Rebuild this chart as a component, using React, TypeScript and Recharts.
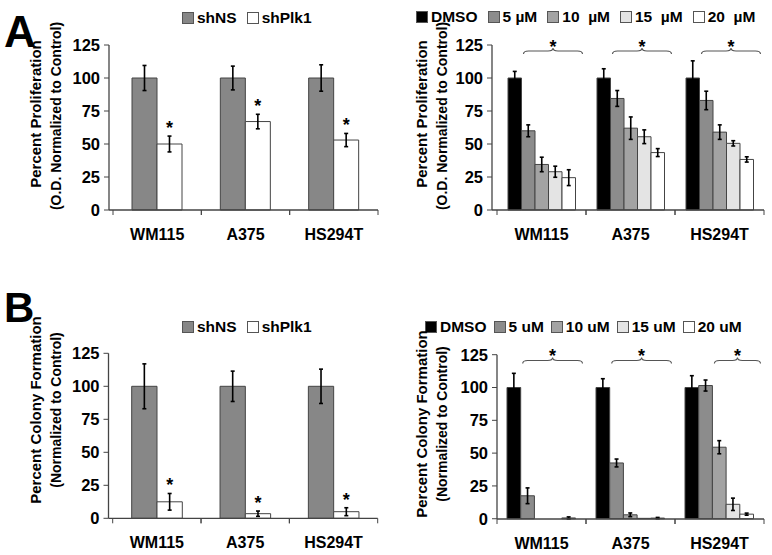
import React from 'react';
import { BarChart, Bar, XAxis, YAxis, ErrorBar, LabelList, Legend } from 'recharts';

const FONT = '"Liberation Sans", Arial, Helvetica, sans-serif';

const cells = ['WM115', 'A375', 'HS294T'];
const yTicks = [0, 25, 50, 75, 100, 125];

// A left: proliferation after shRNA
const prolShNS = [100, 100, 100];
const prolShNSErr = [9.5, 9, 10];
const prolShPlk1 = [50, 67, 53];
const prolShPlk1Err = [6, 5.5, 5];

// A right: proliferation vs dose
const prolDMSO = [100, 100, 100];
const prolDMSOErr = [5, 7, 13];
const prol5 = [60, 84.5, 83];
const prol5Err = [4.5, 6, 7];
const prol10 = [34.5, 62, 59];
const prol10Err = [5.5, 8.5, 5.5];
const prol15 = [29, 55.5, 50.5];
const prol15Err = [4.2, 5.2, 2];
const prol20 = [24.5, 43.5, 38.3];
const prol20Err = [6, 3, 2];
const prolSigFrom = [1, 1, 1];

// B left: colony formation after shRNA
const colShNS = [100, 100, 100];
const colShNSErr = [17, 11.5, 13];
const colShPlk1 = [12.5, 3.5, 5];
const colShPlk1Err = [6.3, 2, 3];

// B right: colony formation vs dose
const colDMSO = [100, 100, 100];
const colDMSOErr = [10.8, 6.7, 9];
const col5 = [17.5, 42.5, 101.5];
const col5Err = [6, 3, 4.2];
const col10 = [0, 3, 54.5];
const col10Err = [0, 1.4, 5];
const col15 = [0, 0.3, 11];
const col15Err = [0, 0, 4.7];
const col20 = [0.6, 0.5, 3.5];
const col20Err = [0.8, 0.5, 0.8];
const colSigFrom = [1, 1, 2];

const shSeries = [
  { key: 'shNS', name: 'shNS', fill: '#878787' },
  { key: 'shPlk1', name: 'shPlk1', fill: '#ffffff' },
];
const doseSeriesA = [
  { key: 'dmso', name: 'DMSO', fill: '#000000' },
  { key: 'd5', name: '5 µM', fill: '#8c8c8c' },
  { key: 'd10', name: '10  µM', fill: '#a3a3a3' },
  { key: 'd15', name: '15  µM', fill: '#e4e4e4' },
  { key: 'd20', name: '20  µM', fill: '#ffffff' },
];
const doseSeriesB = [
  { key: 'dmso', name: 'DMSO', fill: '#000000' },
  { key: 'd5', name: '5 uM', fill: '#8c8c8c' },
  { key: 'd10', name: '10 uM', fill: '#a3a3a3' },
  { key: 'd15', name: '15 uM', fill: '#e4e4e4' },
  { key: 'd20', name: '20 uM', fill: '#ffffff' },
];

const shRows = (a: number[], ae: number[], b: number[], be: number[]) =>
  cells.map((cell, i) => ({ cell, shNS: a[i], shNSErr: ae[i], shPlk1: b[i], shPlk1Err: be[i] }));

const doseRows = (v: number[][], e: number[][]) =>
  cells.map((cell, i) => ({
    cell,
    dmso: v[0][i], dmsoErr: e[0][i],
    d5: v[1][i], d5Err: e[1][i],
    d10: v[2][i], d10Err: e[2][i],
    d15: v[3][i], d15Err: e[3][i],
    d20: v[4][i], d20Err: e[4][i],
  }));

const prolShData = shRows(prolShNS, prolShNSErr, prolShPlk1, prolShPlk1Err);
const colShData = shRows(colShNS, colShNSErr, colShPlk1, colShPlk1Err);
const prolDoseData = doseRows(
  [prolDMSO, prol5, prol10, prol15, prol20],
  [prolDMSOErr, prol5Err, prol10Err, prol15Err, prol20Err]
);
const colDoseData = doseRows(
  [colDMSO, col5, col10, col15, col20],
  [colDMSOErr, col5Err, col10Err, col15Err, col20Err]
);

type Series = { key: string; name: string; fill: string };

function LegendRow({ items, gap }: { items: Series[]; gap: number }) {
  return (
    <div style={{ display: 'flex', alignItems: 'center', fontFamily: FONT, fontWeight: 'bold', fontSize: 15.5, lineHeight: '18px', whiteSpace: 'pre', color: '#000' }}>
      {items.map((s, i) => (
        <div key={s.key} style={{ display: 'flex', alignItems: 'center', marginRight: i < items.length - 1 ? gap : 0 }}>
          <span style={{ width: 10, height: 10, background: s.fill, border: '1px solid #555', marginRight: 3, display: 'inline-block' }} />
          <span>{s.name}</span>
        </div>
      ))}
    </div>
  );
}

type PanelProps = {
  x: number; y: number; w: number; h: number;
  axisX: number; catLeft: number; plotRight: number; plotTop: number; plotBottom: number;
  data: any[]; series: Series[]; barSize: number;
  legendLeft: number; legendMid: number; legendGap: number;
  mark: 'star' | 'bracket'; sigFrom?: number[];
};

function Panel(p: PanelProps) {
  const xh = 30;
  const yw = p.axisX - p.x;
  const mt = p.plotTop - p.y;
  const mb = p.y + p.h - p.plotBottom - xh;
  const mr = p.x + p.w - p.plotRight;
  const ppu = (p.plotBottom - p.plotTop) / 125;
  const axisY = p.plotBottom - p.y;
  const bandHalf = (p.plotRight - p.catLeft) / 3 / 2;

  const CatTick = (t: any) => {
    const half = t.payload && t.payload.offset ? t.payload.offset : bandHalf;
    return (
      <g>
        <line x1={t.x - half} x2={t.x - half} y1={axisY} y2={axisY + 5} stroke="#444" />
        <line x1={t.x + half} x2={t.x + half} y1={axisY} y2={axisY + 5} stroke="#444" />
        <text x={t.x} y={axisY + 30} textAnchor="middle" fontFamily={FONT} fontWeight="bold" fontSize={16} fill="#000">
          {t.payload.value}
        </text>
      </g>
    );
  };

  const renderStar = (l: any) => {
    const err = p.data[l.index].shPlk1Err;
    return (
      <text x={l.x + l.width / 2} y={l.y - err * ppu - 2} textAnchor="middle" fontFamily={FONT} fontWeight="bold" fontSize={18} fill="#000">*</text>
    );
  };

  const renderBracket = (l: any) => {
    const from = p.sigFrom ? p.sigFrom[l.index] : 1;
    const base = l.y + l.height;
    const by = base - 120.4 * ppu;
    const x1 = l.x + l.width * from + 2;
    const x2 = l.x + l.width * 5 + 7;
    const mid = (x1 + x2) / 2;
    const d = `M${x1},${by + 3} Q${x1},${by} ${x1 + 5},${by} L${mid - 5},${by} Q${mid},${by} ${mid},${by - 3} Q${mid},${by} ${mid + 5},${by} L${x2 - 5},${by} Q${x2},${by} ${x2},${by + 3}`;
    return (
      <g>
        <path d={d} fill="none" stroke="#555" strokeWidth={1.1} />
        <text x={mid} y={by + 1.5} textAnchor="middle" fontFamily={FONT} fontWeight="bold" fontSize={18} fill="#000">*</text>
      </g>
    );
  };

  return (
    <div style={{ position: 'absolute', left: p.x, top: p.y }}>
      <BarChart width={p.w} height={p.h} data={p.data} margin={{ top: mt, right: mr, bottom: mb, left: 0 }} barGap={0} barSize={p.barSize}>
        <XAxis
          dataKey="cell"
          height={xh}
          padding={{ left: p.catLeft - p.axisX, right: 0 }}
          axisLine={{ stroke: '#444', strokeWidth: 1.3 }}
          tickLine={false}
          tick={<CatTick />}
          interval={0}
        />
        <YAxis
          width={yw}
          domain={[0, 125]}
          ticks={yTicks}
          interval={0}
          tickSize={5}
          tickMargin={4}
          axisLine={{ stroke: '#444', strokeWidth: 1.3 }}
          tickLine={{ stroke: '#444' }}
          tick={{ fontFamily: FONT, fontWeight: 'bold', fontSize: 16.5, fill: '#000' }}
        />
        <Legend
          layout="horizontal"
          verticalAlign="middle"
          align="center"
          wrapperStyle={{ left: p.legendLeft - p.x, top: p.legendMid - p.y - 9, width: 'auto', height: 'auto' }}
          content={() => <LegendRow items={p.series} gap={p.legendGap} />}
        />
        {p.series.map((s, i) => (
          <Bar key={s.key} dataKey={s.key} name={s.name} fill={s.fill} stroke="#444" strokeWidth={1} isAnimationActive={false}>
            <ErrorBar dataKey={s.key + 'Err'} width={2} stroke="#000" strokeWidth={1.6} direction="y" />
            {p.mark === 'star' && s.key === 'shPlk1' ? <LabelList dataKey={s.key} content={renderStar} /> : null}
            {p.mark === 'bracket' && i === 0 ? <LabelList dataKey={s.key} content={renderBracket} /> : null}
          </Bar>
        ))}
      </BarChart>
    </div>
  );
}

function YTitle({ cx, cy1, cy2, l1, l2 }: { cx: number; cy1: number; cy2: number; l1: string; l2: string }) {
  return (
    <g fontFamily={FONT} fontWeight="bold" fill="#000">
      <text transform={`translate(${cx},${cy1}) rotate(-90)`} textAnchor="middle" dominantBaseline="central" fontSize={15}>{l1}</text>
      <text transform={`translate(${cx + 21},${cy2}) rotate(-90)`} textAnchor="middle" dominantBaseline="central" fontSize={14}>{l2}</text>
    </g>
  );
}

export default function App() {
  return (
    <div style={{ position: 'absolute', left: 0, top: 0, width: 772, height: 555, background: '#fff', overflow: 'hidden' }}>
      <Panel x={0} y={0} w={386} h={250} axisX={109} catLeft={113} plotRight={378} plotTop={45} plotBottom={210}
        data={prolShData} series={shSeries} barSize={25} legendLeft={182} legendMid={17.5} legendGap={10} mark="star" />
      <Panel x={386} y={0} w={386} h={250} axisX={492} catLeft={497} plotRight={764} plotTop={45} plotBottom={210}
        data={prolDoseData} series={doseSeriesA} barSize={13.5} legendLeft={416} legendMid={17} legendGap={10} mark="bracket" sigFrom={prolSigFrom} />
      <Panel x={0} y={280} w={386} h={275} axisX={108.5} catLeft={112.7} plotRight={377.7} plotTop={353.3} plotBottom={518.3}
        data={colShData} series={shSeries} barSize={25.3} legendLeft={182} legendMid={327} legendGap={10} mark="star" />
      <Panel x={386} y={280} w={386} h={275} axisX={497} catLeft={497} plotRight={764} plotTop={354.7} plotBottom={519}
        data={colDoseData} series={doseSeriesB} barSize={13.7} legendLeft={425} legendMid={327} legendGap={7} mark="bracket" sigFrom={colSigFrom} />
      <svg width={772} height={555} style={{ position: 'absolute', left: 0, top: 0, pointerEvents: 'none' }}>
        <text x={4} y={47} fontFamily={FONT} fontWeight="bold" fontSize={44} fill="#000">A</text>
        <text x={4} y={322} fontFamily={FONT} fontWeight="bold" fontSize={42} fill="#000">B</text>
        <YTitle cx={35} cy1={114} cy2={116} l1="Percent Proliferation" l2="(O.D. Normalized to Control)" />
        <YTitle cx={421} cy1={114} cy2={116} l1="Percent Proliferation" l2="(O.D. Normalized to Control)" />
        <YTitle cx={35} cy1={410} cy2={410} l1="Percent Colony Formation" l2="(Normalized to Control)" />
        <YTitle cx={421} cy1={424} cy2={424} l1="Percent Colony Formation" l2="(Normalized to Control)" />
      </svg>
    </div>
  );
}
